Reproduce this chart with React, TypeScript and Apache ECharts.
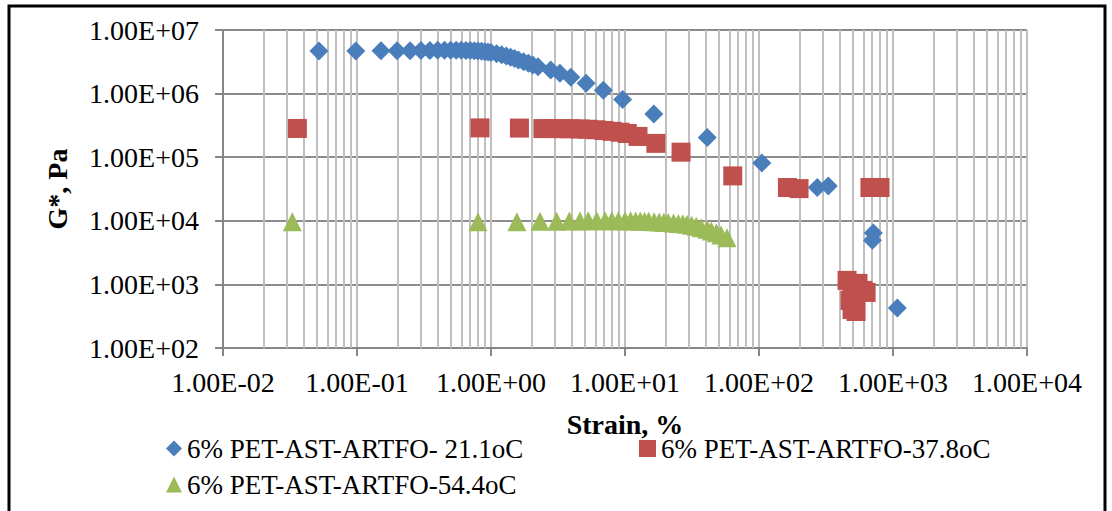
import React, { useEffect, useRef } from "react";
import * as echarts from "echarts";

const seriesNames = [
  "6% PET-AST-ARTFO- 21.1oC",
  "6% PET-AST-ARTFO-37.8oC",
  "6% PET-AST-ARTFO-54.4oC",
];

const blueStrain = [
  0.052, 0.098, 0.151, 0.199, 0.249, 0.3, 0.35, 0.4, 0.45, 0.5, 0.55, 0.6, 0.65, 0.7, 0.75, 0.8, 0.85,
  0.9, 0.95, 1.0, 1.1, 1.2, 1.3, 1.4, 1.5, 1.6, 1.75, 1.9, 2.05, 2.24, 2.79, 3.27, 3.94, 5.12, 6.89,
  9.6, 16.4, 41.1, 105, 272, 329, 702, 713, 1077,
];
const blueG = [
  4.67e6, 4.67e6, 4.7e6, 4.7e6, 4.72e6, 4.75e6, 4.78e6, 4.8e6, 4.8e6, 4.8e6, 4.8e6, 4.8e6, 4.78e6,
  4.75e6, 4.72e6, 4.68e6, 4.63e6, 4.57e6, 4.5e6, 4.42e6, 4.25e6, 4.08e6, 3.9e6, 3.72e6, 3.55e6,
  3.38e6, 3.18e6, 3.0e6, 2.82e6, 2.64e6, 2.34e6, 2.08e6, 1.8e6, 1.45e6, 1.13e6, 8.1e5, 4.76e5,
  2.04e5, 8.1e4, 3.34e4, 3.53e4, 4.93e3, 6.43e3, 424,
];

const redStrain = [
  0.0359, 0.828, 1.63, 2.44, 2.9, 3.45, 3.95, 4.62, 5.3, 6.08, 6.97, 8.0, 9.18, 10.4, 12.5, 17.0,
  26.2, 63.7, 163, 199, 454, 478, 494, 495, 503, 530, 548, 597, 630, 673, 800,
];
const redG = [
  2.83e5, 2.89e5, 2.87e5, 2.82e5, 2.82e5, 2.81e5, 2.8e5, 2.78e5, 2.75e5, 2.7e5, 2.63e5, 2.55e5,
  2.47e5, 2.36e5, 2.12e5, 1.65e5, 1.2e5, 5.08e4, 3.34e4, 3.21e4, 1157, 560, 898, 404, 467, 375,
  1038, 805, 748, 3.34e4, 3.34e4,
];

const greenStrain = [
  0.0329, 0.8, 1.56, 2.32, 3.09, 3.84, 4.61, 5.32, 6.15, 7.1, 7.96, 8.92, 10, 11, 12, 13, 14, 15,
  16.5, 18, 19.5, 21, 23, 25, 27, 29, 31.5, 34, 37, 41, 44, 48, 52, 57.7,
];
const greenG = [
  9.7e3, 9.7e3, 9.7e3, 9.8e3, 9.85e3, 9.9e3, 9.95e3, 1.0e4, 1.0e4, 1.0e4, 1.0e4, 1.0e4, 1.0e4,
  9.98e3, 9.95e3, 9.9e3, 9.85e3, 9.8e3, 9.7e3, 9.6e3, 9.5e3, 9.4e3, 9.25e3, 9.1e3, 8.95e3, 8.8e3,
  8.5e3, 8.2e3, 7.8e3, 7.35e3, 6.9e3, 6.5e3, 6.0e3, 5.4e3,
];

const xDecades = [-2, -1, 0, 1, 2, 3];
const minorMultipliers = [2, 3, 4, 5, 6, 7, 8, 9];

const FONT = '"Times New Roman", "Liberation Serif", serif';

function sci(v: number): string {
  const e = Math.round(Math.log10(v));
  return "1.00E" + (e < 0 ? "-" : "+") + String(Math.abs(e)).padStart(2, "0");
}

function zip(xs: number[], ys: number[]) {
  return xs.map((x, i) => [x, ys[i]]);
}

export default function App() {
  const ref = useRef<HTMLDivElement>(null);

  useEffect(() => {
    if (!ref.current) return;
    const chart = echarts.init(ref.current, null, { renderer: "svg" });

    const minorLines: { xAxis: number }[] = [];
    xDecades.forEach((d) => {
      minorMultipliers.forEach((m) => {
        minorLines.push({ xAxis: m * Math.pow(10, d) });
      });
    });

    const legendText = { fontFamily: FONT, fontSize: 27, color: "#000" };

    chart.setOption({
      animation: false,
      backgroundColor: "#fff",
      textStyle: { fontFamily: FONT },
      grid: { left: 223, top: 30, right: 85, bottom: 163, containLabel: false },
      graphic: [
        {
          type: "rect",
          shape: { x: 9, y: 6, width: 1096, height: 520 },
          style: { fill: "none", stroke: "#000", lineWidth: 3 },
          silent: true,
        },
      ],
      legend: [
        {
          data: [seriesNames[0]],
          left: 161,
          top: 430,
          itemWidth: 16,
          itemHeight: 16,
          itemGap: 0,
          selectedMode: false,
          textStyle: legendText,
        },
        {
          data: [seriesNames[1]],
          left: 634,
          top: 430,
          itemWidth: 17,
          itemHeight: 17,
          selectedMode: false,
          textStyle: legendText,
        },
        {
          data: [seriesNames[2]],
          left: 161,
          top: 466,
          itemWidth: 16,
          itemHeight: 16,
          selectedMode: false,
          textStyle: legendText,
        },
      ],
      xAxis: {
        type: "log",
        logBase: 10,
        min: 0.01,
        max: 10000,
        splitNumber: 6,
        name: "Strain, %",
        nameLocation: "middle",
        nameGap: 62,
        nameTextStyle: { fontFamily: FONT, fontSize: 28, fontWeight: "bold", color: "#000" },
        axisLine: { show: true, lineStyle: { color: "#868686", width: 2 } },
        axisTick: { show: true, length: 8, lineStyle: { color: "#868686", width: 2 } },
        axisLabel: {
          formatter: (v: number) => sci(v),
          fontFamily: FONT,
          fontSize: 28,
          color: "#000",
          margin: 20,
          interval: 0,
        },
        splitLine: { show: true, lineStyle: { color: "#c0c0c0", width: 2 } },
      },
      yAxis: {
        type: "log",
        logBase: 10,
        min: 100,
        max: 1e7,
        splitNumber: 5,
        name: "G*, Pa",
        nameLocation: "middle",
        nameGap: 152,
        nameTextStyle: { fontFamily: FONT, fontSize: 28, fontWeight: "bold", color: "#000" },
        axisLine: { show: true, lineStyle: { color: "#868686", width: 2 } },
        axisTick: { show: true, length: 8, lineStyle: { color: "#868686", width: 2 } },
        axisLabel: {
          formatter: (v: number) => sci(v),
          fontFamily: FONT,
          fontSize: 28,
          color: "#000",
          margin: 24,
        },
        splitLine: { show: true, lineStyle: { color: "#8c8c8c", width: 2 } },
      },
      series: [
        {
          name: "minor",
          type: "line",
          data: [],
          silent: true,
          markLine: {
            silent: true,
            z: 1,
            symbol: "none",
            label: { show: false },
            lineStyle: { color: "#c0c0c0", width: 2, type: "solid" },
            data: minorLines,
          },
        },
        {
          name: seriesNames[0],
          type: "scatter",
          symbol: "diamond",
          symbolSize: 19,
          z: 3,
          itemStyle: { color: "#4A7EBB", opacity: 1 },
          data: zip(blueStrain, blueG),
        },
        {
          name: seriesNames[1],
          type: "scatter",
          symbol: "rect",
          symbolSize: 19,
          z: 3,
          itemStyle: { color: "#C0504D", opacity: 1 },
          data: zip(redStrain, redG),
        },
        {
          name: seriesNames[2],
          type: "scatter",
          symbol: "triangle",
          symbolSize: 19,
          z: 3,
          itemStyle: { color: "#9BBB59", opacity: 1 },
          data: zip(greenStrain, greenG),
        },
      ],
    });

    return () => chart.dispose();
  }, []);

  return (
    <div
      ref={ref}
      style={{ position: "absolute", left: 0, top: 0, width: 1112, height: 511 }}
    />
  );
}
